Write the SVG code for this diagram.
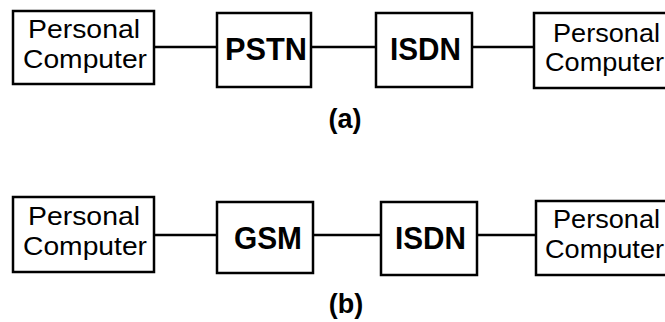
<svg xmlns="http://www.w3.org/2000/svg" width="665" height="322" viewBox="0 0 665 322">
<style>
.box{fill:#fff;stroke:#000;stroke-width:2.5}
.pc{font-family:"Liberation Sans",Arial,sans-serif;font-size:25px;fill:#000}
.net{font-family:"Liberation Sans",Arial,sans-serif;font-size:31px;font-weight:bold;fill:#000}
.cap{font-family:"Liberation Sans",Arial,sans-serif;font-size:27px;font-weight:bold;fill:#000}
.conn line{stroke:#000;stroke-width:2.5}
</style>
<rect width="665" height="322" fill="#fff"/>
<g id="connectors" class="conn">
<line x1="154" y1="47" x2="217" y2="47"/>
<line x1="311" y1="47" x2="376" y2="47"/>
<line x1="472" y1="47" x2="534" y2="47"/>
<line x1="154" y1="235" x2="217" y2="235"/>
<line x1="313" y1="235" x2="381" y2="235"/>
<line x1="477" y1="235" x2="536" y2="235"/>
</g>
<g id="pc-a-left">
<rect class="box" x="13" y="11" width="141" height="73"/>
<text class="pc" x="28" y="38" textLength="112" lengthAdjust="spacingAndGlyphs">Personal</text>
<text class="pc" x="23" y="68" textLength="124" lengthAdjust="spacingAndGlyphs">Computer</text>
</g>
<g id="pstn">
<rect class="box" x="217" y="13" width="94" height="74"/>
<text class="net" x="225" y="60" textLength="82" lengthAdjust="spacingAndGlyphs">PSTN</text>
</g>
<g id="isdn-a">
<rect class="box" x="376" y="13" width="96" height="74"/>
<text class="net" x="390" y="60" textLength="71" lengthAdjust="spacingAndGlyphs">ISDN</text>
</g>
<g id="pc-a-right">
<rect class="box" x="534" y="13" width="140" height="75"/>
<text class="pc" x="553" y="42" textLength="107" lengthAdjust="spacingAndGlyphs">Personal</text>
<text class="pc" x="545" y="71" textLength="119" lengthAdjust="spacingAndGlyphs">Computer</text>
</g>
<g id="label-a">
<text class="cap" x="345" y="128" text-anchor="middle">(a)</text>
</g>
<g id="pc-b-left">
<rect class="box" x="13" y="197" width="141" height="75"/>
<text class="pc" x="28" y="225" textLength="112" lengthAdjust="spacingAndGlyphs">Personal</text>
<text class="pc" x="23" y="255" textLength="124" lengthAdjust="spacingAndGlyphs">Computer</text>
</g>
<g id="gsm">
<rect class="box" x="217" y="202" width="96" height="71"/>
<text class="net" x="234" y="249" textLength="68" lengthAdjust="spacingAndGlyphs">GSM</text>
</g>
<g id="isdn-b">
<rect class="box" x="381" y="202" width="96" height="73"/>
<text class="net" x="395" y="249" textLength="71" lengthAdjust="spacingAndGlyphs">ISDN</text>
</g>
<g id="pc-b-right">
<rect class="box" x="536" y="201" width="140" height="74"/>
<text class="pc" x="553" y="228" textLength="107" lengthAdjust="spacingAndGlyphs">Personal</text>
<text class="pc" x="545" y="258" textLength="119" lengthAdjust="spacingAndGlyphs">Computer</text>
</g>
<g id="label-b">
<text class="cap" x="346" y="313" text-anchor="middle">(b)</text>
</g>
</svg>
